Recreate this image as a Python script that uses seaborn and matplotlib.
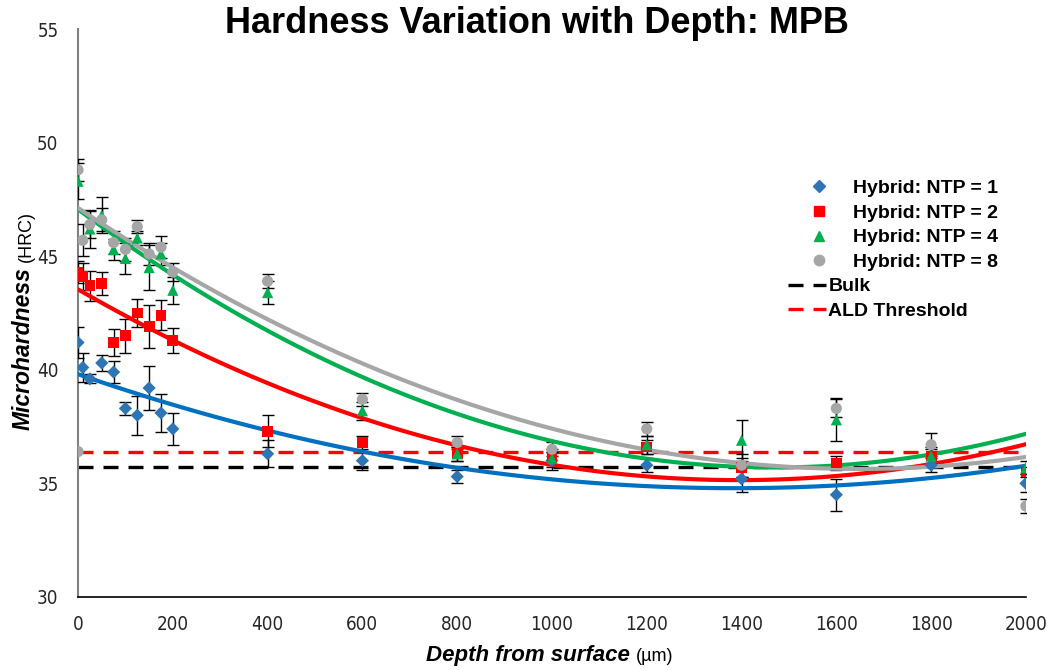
import numpy as np
import pandas as pd
import matplotlib
matplotlib.use("Agg")
import matplotlib.pyplot as plt
import seaborn as sns
from matplotlib.lines import Line2D
from matplotlib.offsetbox import TextArea, HPacker, AnchoredOffsetbox

# Measurement depths (µm)
depth = [0, 10, 25, 50, 75, 100, 125, 150, 175, 200,
         400, 600, 800, 1000, 1200, 1400, 1600, 1800, 2000]

# Mean microhardness (HRC) per processing condition
ntp1 = [41.2, 40.1, 39.6, 40.3, 39.9, 38.3, 38.0, 39.2, 38.1, 37.4,
        36.3, 36.0, 35.3, 36.0, 35.8, 35.2, 34.5, 35.8, 35.0]
ntp2 = [44.3, 44.1, 43.7, 43.8, 41.2, 41.5, 42.5, 41.9, 42.4, 41.3,
        37.3, 36.8, 36.3, 36.1, 36.6, 35.7, 35.9, 36.2, 35.5]
ntp4 = [48.3, np.nan, 46.2, 46.8, 45.3, 44.9, 45.8, 44.5, 45.1, 43.5,
        43.4, 38.2, 36.3, 36.1, 36.7, 36.9, 37.8, 36.2, 35.7]
ntp8 = [48.8, 45.7, 46.4, 46.6, 45.6, 45.3, 46.3, 45.1, 45.4, 44.3,
        43.9, 38.7, 36.8, 36.5, 37.4, 35.8, 38.3, 36.7, 34.0]
ntp8_extra_depth = [0]
ntp8_extra = [36.4]

# Standard deviations (HRC)
ntp1_err = [0.7, 0.65, 0.2, 0.37, 0.5, 0.3, 0.85, 0.97, 0.85, 0.7,
            0.6, 0.4, 0.3, 0.4, 0.3, 0.6, 0.7, 0.3, 0.4]
ntp2_err = [0.5, 0.6, 0.66, 0.5, 0.6, 0.75, 0.6, 0.95, 0.66, 0.55,
            0.7, 0.3, 0.3, 0.3, 0.3, 0.4, 0.3, 0.3, 0.2]
ntp4_err = [0.8, np.nan, 0.85, 0.8, 0.45, 0.7, 0.3, 1.0, 0.5, 0.6,
            0.5, 0.4, 0.3, 0.4, 0.4, 0.9, 0.95, 0.4, 0.3]
ntp8_err = [0.5, 0.7, 0.6, 0.5, 0.5, 0.5, 0.3, 0.5, 0.5, 0.4,
            0.3, 0.3, 0.3, 0.3, 0.3, 0.5, 0.4, 0.5, 0.3]

bulk_hrc = 35.7
ald_threshold_hrc = 36.4

series_labels = ["Hybrid: NTP = 1", "Hybrid: NTP = 2",
                 "Hybrid: NTP = 4", "Hybrid: NTP = 8"]
line_labels = ["Bulk", "ALD Threshold"]

sns.set_style("white")
plt.rcParams["font.family"] = ["Liberation Sans", "DejaVu Sans"]
plt.rcParams["text.color"] = "black"
plt.rcParams["axes.labelcolor"] = "black"

DASH = (0, (4.5, 3.0))

fig = plt.figure(figsize=(10.49, 6.70), dpi=100)
ax = fig.add_axes([0.0744, 0.109, 0.9036, 0.8477])
ax.set_xlim(0, 2000)
ax.set_ylim(30, 55)

styles = [
    (ntp1, ntp1_err, "#2E75B6", "#0070C0", "D", 45),
    (ntp2, ntp2_err, "#FF0000", "#FF0000", "s", 60),
    (ntp4, ntp4_err, "#00B050", "#00B050", "^", 65),
    (ntp8, ntp8_err, "#A6A6A6", "#A6A6A6", "o", 65),
]

# Reference levels
ax.axhline(bulk_hrc, color="black", lw=2.4, ls=DASH, zorder=2)
ax.axhline(ald_threshold_hrc, color="#FF0000", lw=2.4, ls=DASH, zorder=2)

# Error bars
for vals, errs, mcol, lcol, mk, sz in styles:
    ax.errorbar(depth, vals, yerr=errs, fmt="none", ecolor="black",
                elinewidth=1.0, capsize=4, capthick=1.0, zorder=3)

# Second-order polynomial trend lines
for vals, errs, mcol, lcol, mk, sz in styles:
    df = pd.DataFrame({"depth": depth, "hrc": vals})
    sns.regplot(data=df, x="depth", y="hrc", order=2, ci=None, scatter=False,
                truncate=False, ax=ax, line_kws={"color": lcol, "lw": 3.0, "zorder": 4})

# Data points
for vals, errs, mcol, lcol, mk, sz in styles:
    sns.scatterplot(x=depth, y=vals, marker=mk, color=mcol, s=sz,
                    edgecolor="none", ax=ax, zorder=5, legend=False)
sns.scatterplot(x=ntp8_extra_depth, y=ntp8_extra, marker="o", color="#A6A6A6",
                s=65, edgecolor="none", ax=ax, zorder=5, legend=False)

# Axes styling
ax.set_xlabel("")
ax.set_ylabel("")
ax.set_xticks(np.arange(0, 2001, 200))
ax.set_yticks(np.arange(30, 56, 5))
for s in ["top", "right"]:
    ax.spines[s].set_visible(False)
ax.spines["left"].set_color("#808080")
ax.spines["left"].set_linewidth(1.5)
ax.spines["bottom"].set_color("black")
ax.spines["bottom"].set_linewidth(1.2)
ax.tick_params(axis="both", length=0, labelsize=13.5, labelcolor="#262626")
ax.tick_params(axis="x", pad=13)
ax.tick_params(axis="y", pad=14)
for lab in ax.get_xticklabels() + ax.get_yticklabels():
    lab.set_family(["DejaVu Sans"])
    lab.set_fontstretch("condensed")

# Legends: marker series, then reference lines
marker_handles = []
for (vals, errs, mcol, lcol, mk, sz), lab in zip(styles, series_labels):
    marker_handles.append(Line2D([], [], ls="none", marker=mk, color=mcol,
                                 markersize=7.5 if mk != "D" else 6, label=lab))
leg1 = ax.legend(handles=marker_handles, loc="upper left", bbox_to_anchor=(0.7715, 0.735),
                 frameon=False, prop={"weight": "bold", "size": 14},
                 labelspacing=0.36, handlelength=1.0, handletextpad=1.25,
                 borderpad=0, borderaxespad=0)
ax.add_artist(leg1)
line_handles = [
    Line2D([], [], color="black", lw=2.4, ls=DASH, label=line_labels[0]),
    Line2D([], [], color="#FF0000", lw=2.4, ls=DASH, label=line_labels[1]),
]
ax.legend(handles=line_handles, loc="upper left", bbox_to_anchor=(0.749, 0.562),
          frameon=False, prop={"weight": "bold", "size": 14},
          labelspacing=0.36, handlelength=1.95, handletextpad=0.12,
          borderpad=0, borderaxespad=0)

# Title
fig.text(0.512, 0.965, "Hardness Variation with Depth: MPB", ha="center", va="center",
         fontsize=26, fontweight="bold")

# X axis title: bold italic name followed by unit
xbox = HPacker(children=[
    TextArea("Depth from surface", textprops=dict(fontsize=16, fontweight="bold", fontstyle="italic")),
    TextArea("(µm)", textprops=dict(fontsize=13)),
], align="baseline", pad=0, sep=4)
anch = AnchoredOffsetbox(loc="center", child=xbox, frameon=False, pad=0,
                         bbox_to_anchor=(0.524, 0.022), bbox_transform=fig.transFigure,
                         borderpad=0)
fig.add_artist(anch)

# Y axis title: bold italic name followed by unit, rotated
t1 = fig.text(0.022, 0.358, "Microhardness", rotation=90, ha="center", va="bottom",
              fontsize=16.5, fontweight="bold", fontstyle="italic")
fig.canvas.draw()
ax.annotate("(HRC)", xy=(1, 1), xycoords=t1, xytext=(0, 4), textcoords="offset points",
            rotation=90, ha="right", va="bottom", fontsize=13, annotation_clip=False)

fig.savefig("out.png", dpi=100)
